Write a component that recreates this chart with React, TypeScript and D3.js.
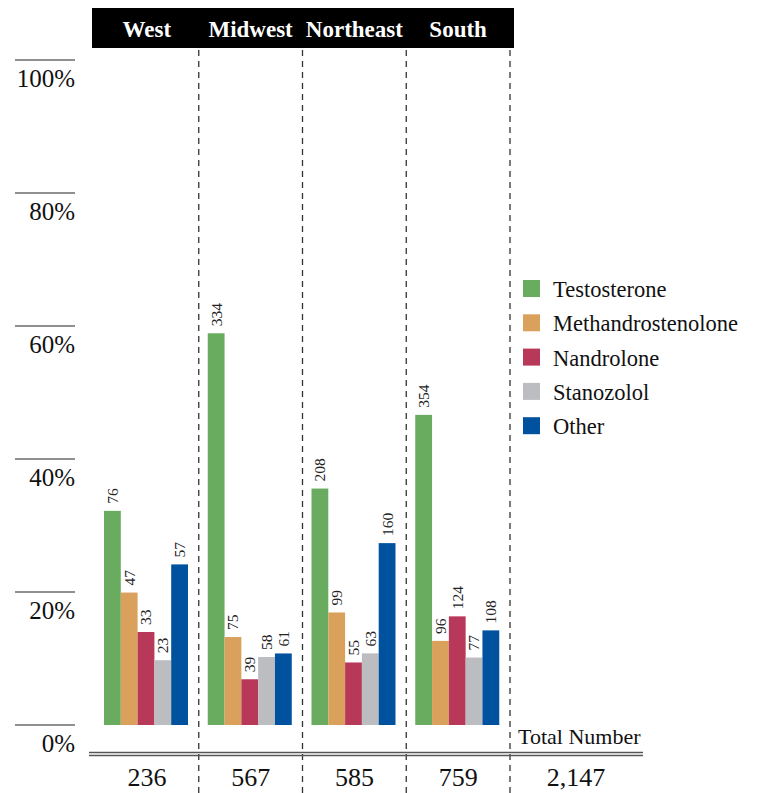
import React from "react";
import * as d3 from "d3";

const regions = ["West", "Midwest", "Northeast", "South"];
const drugs = ["Testosterone", "Methandrostenolone", "Nandrolone", "Stanozolol", "Other"];
const colors = ["#69ac5f", "#d9a15c", "#b8385a", "#bcbdc1", "#00529f"];
const totals = [236, 567, 585, 759];
const grandTotal = "2,147";
const testosterone = [76, 334, 208, 354];
const methandrostenolone = [47, 75, 99, 96];
const nandrolone = [33, 39, 55, 124];
const stanozolol = [23, 58, 63, 77];
const other = [57, 61, 160, 108];
const yTicks = [0, 20, 40, 60, 80, 100];

const series = [testosterone, methandrostenolone, nandrolone, stanozolol, other];
const FONT = "'Liberation Serif', 'Times New Roman', serif";

export default function App() {
  const W = 757, H = 793;
  const x = d3.scaleBand<string>().domain(regions).range([95, 510]);
  const y = d3.scaleLinear().domain([0, 100]).range([725, 60]);
  const inner = d3.scaleBand<string>().domain(drugs).range([0, 84]);
  const groupOffset = 9;
  const step = x.step();
  const boundaries = regions.map((r) => (x(r) as number) + step);
  const ts = { fontFamily: FONT };

  return (
    <svg width={W} height={H} style={{ position: "absolute", left: 0, top: 0, display: "block", fontFamily: FONT }}>
      <rect x={0} y={0} width={W} height={H} fill="#fff" />
      {/* header */}
      <rect x={92} y={8} width={422} height={40} fill="#000" />
      {regions.map((r) => (
        <text key={r} style={ts} x={(x(r) as number) + step / 2} y={37} fill="#fff" fontSize={23} fontWeight="bold" textAnchor="middle">
          {r}
        </text>
      ))}
      {/* dashed separators */}
      {boundaries.map((b, i) => (
        <line key={i} x1={b} x2={b} y1={50} y2={H} stroke="#333" strokeWidth={1.3} strokeDasharray="6 5" />
      ))}
      {/* y axis ticks */}
      {yTicks.map((t) => (
        <g key={t}>
          <line x1={15} x2={75} y1={y(t)} y2={y(t)} stroke="#222" strokeWidth={1.2} />
          <text style={ts} x={75} y={y(t) + 27} fontSize={25} textAnchor="end" fill="#111">
            {t}%
          </text>
        </g>
      ))}
      {/* bars */}
      {regions.map((r, ri) => (
        <g key={r} transform={`translate(${(x(r) as number) + groupOffset},0)`}>
          {drugs.map((d, di) => {
            const v = series[di][ri];
            const pct = (v / totals[ri]) * 100;
            const bx = inner(d) as number;
            const bw = inner.bandwidth();
            const top = y(pct);
            return (
              <g key={d}>
                <rect x={bx} y={top} width={bw} height={y(0) - top} fill={colors[di]} />
                <text
                  style={ts}
                  transform={`translate(${bx + bw / 2},${top - 7}) rotate(-90)`}
                  fontSize={15.5}
                  dy="0.35em"
                  fill="#222"
                >
                  {v}
                </text>
              </g>
            );
          })}
        </g>
      ))}
      {/* bottom double line */}
      <line x1={89} x2={643} y1={752.5} y2={752.5} stroke="#555" strokeWidth={1.3} />
      <line x1={89} x2={643} y1={755.5} y2={755.5} stroke="#555" strokeWidth={1.3} />
      <text style={ts} x={518} y={744} fontSize={22} fill="#111">Total Number</text>
      {regions.map((r, i) => (
        <text key={r} style={ts} x={(x(r) as number) + step / 2} y={786} fontSize={26} textAnchor="middle" fill="#111">
          {totals[i]}
        </text>
      ))}
      <text style={ts} x={576} y={786} fontSize={26} textAnchor="middle" fill="#111">{grandTotal}</text>
      {/* legend */}
      {drugs.map((d, i) => (
        <g key={d} transform={`translate(523,${280 + i * 34.3})`}>
          <rect x={0} y={0} width={17} height={17} fill={colors[i]} />
          <text style={ts} x={30} y={17} fontSize={22.5} fill="#111">{d}</text>
        </g>
      ))}
    </svg>
  );
}
